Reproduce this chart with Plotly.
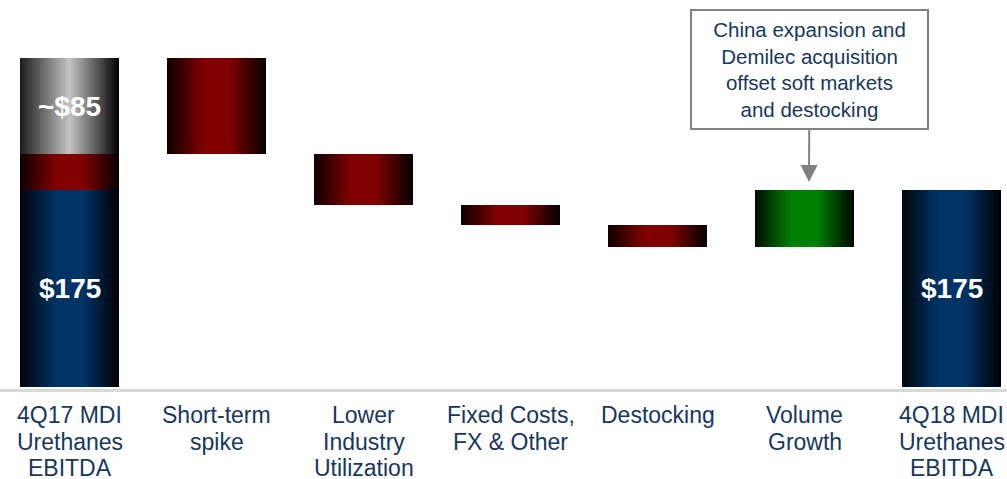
import plotly.graph_objects as go

# ---------------- data ----------------
categories = [
    "4Q17 MDI<br>Urethanes<br>EBITDA",
    "Short-term<br>spike",
    "Lower<br>Industry<br>Utilization",
    "Fixed Costs,<br>FX & Other",
    "Destocking",
    "Volume<br>Growth",
    "4Q18 MDI<br>Urethanes<br>EBITDA",
]
start_base = 175        # blue part of starting bar
start_other = 32        # red part of starting bar
start_spike = 85        # gray "~$85" part of starting bar
changes = [-85, -45, -18, -20, 51]   # bridge steps
end_value = 175
start_labels = ["$175", "~$85"]
end_label = "$175"
note_text = "China expansion and<br>Demilec acquisition<br>offset soft markets<br>and destocking"

# ---------------- styles ----------------
FONT = "Liberation Sans, Arial, sans-serif"
NAVY_TXT = "#17375e"
COLORS = {
    "blue": (0x00, 0x33, 0x66),
    "red": (0x80, 0x00, 0x00),
    "green": (0x00, 0x80, 0x00),
}
GRAY_STOPS = [(0.0, (0x1c, 0x1c, 0x1c)), (0.5, (0xc4, 0xc4, 0xc4)), (1.0, (0, 0, 0))]


def stops_for(name):
    if name == "gray":
        return GRAY_STOPS
    c = COLORS[name]
    return [(0.0, tuple(v * 0.12 for v in c)), (0.37, c), (0.63, c), (1.0, tuple(v * 0.03 for v in c))]


def grad(name, t):
    st = stops_for(name)
    for (t0, c0), (t1, c1) in zip(st[:-1], st[1:]):
        if t0 <= t <= t1:
            f = 0 if t1 == t0 else (t - t0) / (t1 - t0)
            r, g, b = (round(a + (bb - a) * f) for a, bb in zip(c0, c1))
            return f"rgb({r},{g},{b})"
    r, g, b = st[-1][1]
    return f"rgb({r},{g},{b})"


# ---------------- segments ----------------
seg_x, seg_base, seg_h, seg_col = [], [], [], []
seg_x += [categories[0]] * 3
seg_base += [0, start_base, start_base + start_other]
seg_h += [start_base, start_other, start_spike]
seg_col += ["blue", "red", "gray"]
running = start_base + start_other + start_spike
for cat, ch in zip(categories[1:-1], changes):
    if ch < 0:
        seg_base.append(running + ch)
        seg_h.append(-ch)
        seg_col.append("red")
    else:
        seg_base.append(running)
        seg_h.append(ch)
        seg_col.append("green")
    seg_x.append(cat)
    running += ch
seg_x.append(categories[-1])
seg_base.append(0)
seg_h.append(end_value)
seg_col.append("blue")

# ---------------- figure ----------------
fig = go.Figure()
W = 99 / 147.0
N = 60
for k in range(N):
    t = (k + 0.5) / N
    fig.add_trace(go.Bar(
        x=seg_x, y=seg_h, base=seg_base,
        offset=-W / 2 + k * W / N, width=W - k * W / N,
        marker=dict(color=[grad(c, t) for c in seg_col], line=dict(width=0)),
        hoverinfo="skip", showlegend=False,
    ))

ann = []
lab_font = dict(family=FONT, size=28, color="white", weight="bold")
ann.append(dict(x=categories[0], y=start_base / 2, text=start_labels[0], showarrow=False,
                font=lab_font, xref="x", yref="y"))
ann.append(dict(x=categories[0], y=start_base + start_other + start_spike / 2, text=start_labels[1],
                showarrow=False, font=lab_font, xref="x", yref="y"))
ann.append(dict(x=categories[-1], y=end_value / 2, text=end_label, showarrow=False,
                font=lab_font, xref="x", yref="y"))
ann.append(dict(
    x=809 / 1007, y=(387 - 182) / 387, xref="paper", yref="paper",
    text=note_text, showarrow=True, ax=0.5, ay=-112.5,
    arrowcolor="#808080", arrowwidth=2, arrowhead=2, arrowsize=1.7,
    font=dict(family=FONT, size=20.5, color=NAVY_TXT),
    bordercolor="#808080", borderwidth=2, borderpad=0, bgcolor="white",
    width=235, height=117, align="center",
))

# category labels, one line at a time for tighter line spacing
for cat in categories:
    for i, line in enumerate(cat.split("<br>")):
        ann.append(dict(x=cat, xref="x", y=0, yref="paper", yanchor="middle",
                        yshift=387 - (415 + 26.7 * i), text=line, showarrow=False,
                        font=dict(family=FONT, size=23, color=NAVY_TXT)))

fig.update_layout(
    width=1007, height=479,
    margin=dict(l=0, r=0, t=0, b=92),
    paper_bgcolor="white", plot_bgcolor="white",
    barmode="overlay", bargap=0,
    annotations=ann,
    shapes=[dict(type="line", xref="paper", yref="paper", x0=0, x1=1,
                 y0=-3.5 / 387, y1=-3.5 / 387, line=dict(color="#d9d9d9", width=3))],
    xaxis=dict(type="category", categoryorder="array", categoryarray=categories,
               range=[-69.5 / 147, (1007 - 69.5) / 147], showgrid=False, zeroline=False,
               showline=False, ticks="", showticklabels=False, fixedrange=True),
    yaxis=dict(range=[0, 387 / 1.1257], showgrid=False, zeroline=False, showticklabels=False,
               showline=False, fixedrange=True),
)

fig.write_html("out.html")
